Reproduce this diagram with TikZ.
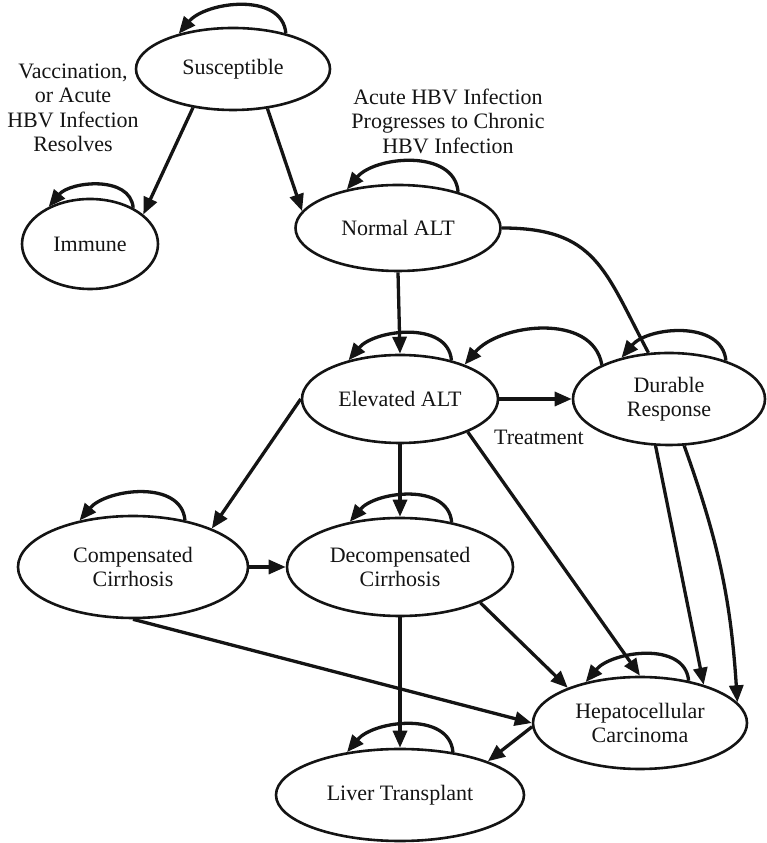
\documentclass[tikz,border=0pt]{standalone}
\usepackage{fontspec}
\setmainfont{Liberation Serif}
\usetikzlibrary{shapes.geometric,arrows.meta}
\begin{document}
\begin{tikzpicture}[x=1pt,y=1pt,
  state/.style={ellipse,draw=drawColor,line width=2.6pt,inner sep=0pt,align=center,text=drawColor,font=\fontsize{22}{24.5}\selectfont},
  flow/.style={draw=drawColor,line width=3.3pt,-{Triangle[length=17pt,width=14pt]}},
  selfloop/.style={out=95,in=50,looseness=1},
  lbl/.style={align=center,inner sep=0pt,text=drawColor,font=\fontsize{22}{24.5}\selectfont}]
\definecolor{drawColor}{RGB}{20,20,20}
\path[use as bounding box] (0,0) rectangle (767,843);

\node[state,minimum width=194pt,minimum height=82pt] (susc) at (233,774) {Susceptible};
\node[state,minimum width=136pt,minimum height=90pt] (immune) at (90,599) {Immune};
\node[state,minimum width=205pt,minimum height=86pt] (normal) at (398,615) {Normal ALT};
\node[state,minimum width=196pt,minimum height=88pt] (elev) at (400,444) {Elevated ALT};
\node[state,minimum width=192pt,minimum height=92pt] (durable) at (669,444) {Durable\\Response};
\node[state,minimum width=230pt,minimum height=102pt] (comp) at (133,276) {Compensated\\Cirrhosis};
\node[state,minimum width=226pt,minimum height=98pt] (decomp) at (400,276) {Decompensated\\Cirrhosis};
\node[state,minimum width=214pt,minimum height=92pt] (hcc) at (640,120) {Hepatocellular\\Carcinoma};
\node[state,minimum width=248pt,minimum height=92pt] (liver) at (400,48) {Liver Transplant};

\node[lbl] (vacclbl) at (73,735) {Vaccination,\\or Acute\\HBV Infection\\Resolves};
\node[lbl] (acutelbl) at (448,722) {Acute HBV Infection\\Progresses to Chronic\\HBV Infection};
\node[lbl] (treatlbl) at (539,406) {Treatment};

\draw[flow] (susc.34) to[selfloop] (susc.147);
\draw[flow] (immune.40) to[selfloop] (immune.138);
\draw[flow] (normal.31) to[selfloop] (normal.143);
\draw[flow] (elev.37) to[selfloop] (elev.143);
\draw[flow] (durable.34) to[selfloop] (durable.139);
\draw[flow] (comp.42) to[selfloop] (comp.139);
\draw[flow] (decomp.41) to[selfloop] (decomp.138);
\draw[flow] (hcc.41) to[selfloop] (hcc.143);
\draw[flow] (liver.39) to[selfloop] (liver.141);

\draw[flow] (susc.224) -- (immune.29);
\draw[flow] (susc.311) -- (normal.170);
\draw[flow] (normal.south) -- (elev.north);
\draw[draw=drawColor,line width=3.3pt] (normal.east) to[out=0,in=118,looseness=1.25] (durable.114);
\draw[flow] (durable.153) to[out=100,in=50] (elev.28);
\draw[flow] (elev.east) -- (durable.west);
\draw[flow] (elev.west) -- (comp.26);
\draw[flow] (elev.south) -- (decomp.north);
\draw[flow] (elev.334) -- (hcc.north);
\draw[flow] (comp.east) -- (decomp.west);
\draw[flow] (comp.south) -- (hcc.west);
\draw[flow] (decomp.336) -- (hcc.154);
\draw[flow] (decomp.south) -- (liver.north);
\draw[flow] (hcc.182) -- (liver.21);
\draw[flow] (durable.254) -- (hcc.31);
\draw[flow] (durable.288) to[bend left=8] (hcc.12);
\end{tikzpicture}
\end{document}
